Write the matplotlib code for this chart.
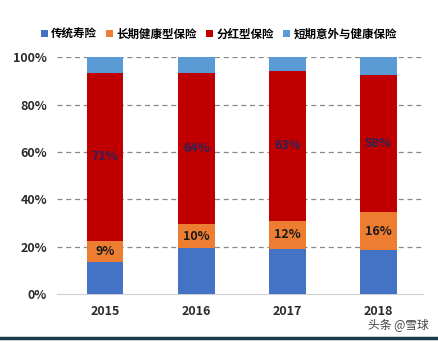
import numpy as np
import matplotlib.pyplot as plt
from matplotlib.ticker import FuncFormatter

plt.rcParams['font.family'] = ['Noto Sans CJK SC', 'DejaVu Sans']

years = ['2015', '2016', '2017', '2018']
series = ['传统寿险', '长期健康型保险', '分红型保险', '短期意外与健康保险']
traditional = [13.5, 19.5, 19.0, 18.5]
health_long = [9, 10, 12, 16]
dividend = [71, 64, 63, 58]
short_term = [6.5, 6.5, 6.0, 7.5]
colors = ['#4472C4', '#ED7D31', '#C00000', '#5B9BD5']

fig = plt.figure(figsize=(4.38, 3.42), dpi=100)
ax = fig.add_axes([0.13, 0.14, 0.836, 0.693])

x = np.arange(len(years))
bottom = np.zeros(len(years))
bars = []
for vals, c, name in zip([traditional, health_long, dividend, short_term], colors, series):
    b = ax.bar(x, vals, 0.4, bottom=bottom, color=c, label=name, zorder=3)
    bars.append(b)
    bottom += np.array(vals)

for i in range(len(years)):
    yo = traditional[i] + health_long[i] / 2
    ax.text(x[i], yo, f'{health_long[i]}%', ha='center', va='center',
            fontsize=9, fontweight='bold', color='#1a1a1a', zorder=4)
    yr = traditional[i] + health_long[i] + dividend[i] / 2
    ax.text(x[i], yr, f'{dividend[i]}%', ha='center', va='center',
            fontsize=9, fontweight='bold', color='#2b2358', zorder=4)

ax.set_xlim(-0.53, 3.49)
ax.set_ylim(0, 100)
ax.set_yticks([0, 20, 40, 60, 80, 100])
ax.yaxis.set_major_formatter(FuncFormatter(lambda v, p: f'{v:.0f}%'))
ax.set_xticks(x)
ax.set_xticklabels(years)
for lab in ax.get_xticklabels() + ax.get_yticklabels():
    lab.set_fontweight('bold')
    lab.set_fontsize(9)
    lab.set_color('#2a2a2a')
ax.tick_params(length=0, pad=8)
ax.tick_params(axis='y', pad=7)
for y in [20, 40, 60, 80, 100]:
    ax.axhline(y, color='#888888', lw=0.9, ls=(0, (4, 3)), zorder=1)
for s in ['top', 'right', 'left']:
    ax.spines[s].set_visible(False)
ax.spines['bottom'].set_color('#d0d0d0')

fig.legend(handles=bars, labels=series, loc='center', bbox_to_anchor=(0.5, 0.9),
           ncol=4, frameon=False, handlelength=0.6, handleheight=0.6,
           columnspacing=0.8, handletextpad=0.3, prop={'weight': 'bold', 'size': 8.3})

fig.add_artist(plt.Line2D([0.0, 1.0], [0.012, 0.012], color='#1d3a4c', lw=2.5))
fig.text(0.978, 0.05, '头条 @雪球', ha='right', va='center', fontsize=8.5, color='#444444')

fig.savefig('out.png', dpi=100)
